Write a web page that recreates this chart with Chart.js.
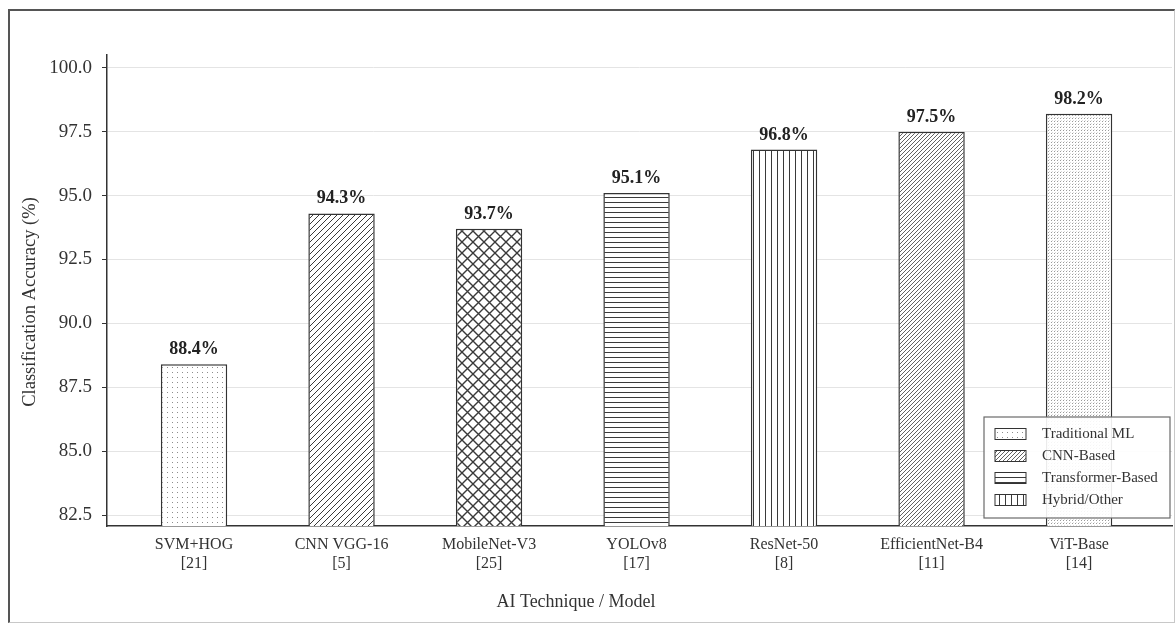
<!DOCTYPE html>
<html>
<head>
<meta charset="utf-8">
<title>Classification accuracy by AI technique</title>
<script src="https://cdn.jsdelivr.net/npm/chart.js@4.4.1/dist/chart.umd.min.js"></script>
<style>
  html, body { margin: 0; padding: 0; background: #fff; }
  #wrap { position: relative; width: 1176px; height: 625px; }
  #frame {
    position: absolute; left: 8px; top: 9px; width: 1167px; height: 614px;
    box-sizing: border-box; pointer-events: none;
    border-left: 2px solid #555; border-top: 2px solid #555;
    border-right: 1px solid #c8c8c8; border-bottom: 1px solid #c8c8c8;
  }
</style>
</head>
<body>
<div id="wrap">
  <canvas id="grafico" width="1176" height="625"></canvas>
  <div id="frame"></div>
</div>
<script>
// data
const modelos = ['SVM+HOG', 'CNN VGG-16', 'MobileNet-V3', 'YOLOv8', 'ResNet-50', 'EfficientNet-B4', 'ViT-Base'];
const referencias = ['[21]', '[5]', '[25]', '[17]', '[8]', '[11]', '[14]'];
const precision = [88.4, 94.3, 93.7, 95.1, 96.8, 97.5, 98.2];
const tramas = ['dots', 'diag', 'cross', 'horiz', 'vert', 'finediag', 'densedots'];
const yTicks = [82.5, 85.0, 87.5, 90.0, 92.5, 95.0, 97.5, 100.0];

const leyendaTextos = ['Traditional ML', 'CNN-Based', 'Transformer-Based', 'Hybrid/Other'];
const leyendaTramas = ['dots', 'finediag', 'horiz', 'vert'];

const fuente = "'Liberation Serif', 'DejaVu Serif', serif";

function crearTrama(tipo) {
    const c = document.createElement('canvas');
    const g = c.getContext('2d');
    let w = 6, h = 6;
    if (tipo === 'dots') { w = 5; h = 5; }
    if (tipo === 'densedots') { w = 3; h = 3; }
    if (tipo === 'diag') { w = 6; h = 6; }
    if (tipo === 'finediag') { w = 4; h = 4; }
    if (tipo === 'cross') { w = 11; h = 11; }
    if (tipo === 'horiz') { w = 8; h = 5; }
    if (tipo === 'vert') { w = 6; h = 8; }
    c.width = w; c.height = h;
    g.fillStyle = '#ffffff';
    g.fillRect(0, 0, w, h);
    g.strokeStyle = '#3a3a3a';

    if (tipo === 'dots') {
        g.fillStyle = '#8c8c8c';
        g.fillRect(2, 2, 1, 1);
    } else if (tipo === 'densedots') {
        g.fillStyle = '#9a9a9a';
        g.fillRect(1, 1, 1, 1);
        g.fillStyle = '#dcdcdc';
        g.fillRect(2, 0, 1, 1);
    } else if (tipo === 'diag' || tipo === 'finediag') {
        g.lineWidth = tipo === 'diag' ? 1 : 0.8;
        g.beginPath();
        g.moveTo(0, h); g.lineTo(w, 0);
        g.moveTo(-1, 1); g.lineTo(1, -1);
        g.moveTo(w - 1, h + 1); g.lineTo(w + 1, h - 1);
        g.stroke();
    } else if (tipo === 'cross') {
        g.lineWidth = 1.4;
        g.beginPath();
        g.moveTo(0, h); g.lineTo(w, 0);
        g.moveTo(0, 0); g.lineTo(w, h);
        g.stroke();
    } else if (tipo === 'horiz') {
        g.lineWidth = 1;
        g.beginPath();
        g.moveTo(0, 2.5); g.lineTo(w, 2.5);
        g.stroke();
    } else if (tipo === 'vert') {
        g.lineWidth = 1;
        g.beginPath();
        g.moveTo(3.5, 0); g.lineTo(3.5, h);
        g.stroke();
    }
    return g.createPattern(c, 'repeat');
}

// etiquetas de valor encima de cada barra
const etiquetasBarras = {
    id: 'etiquetasBarras',
    afterDatasetsDraw(chart) {
        const ctx = chart.ctx;
        const meta = chart.getDatasetMeta(0);
        ctx.save();
        ctx.font = 'bold 18px ' + fuente;
        ctx.fillStyle = '#222';
        ctx.textAlign = 'center';
        ctx.textBaseline = 'alphabetic';
        meta.data.forEach(function (barra, i) {
            ctx.fillText(precision[i].toFixed(1) + '%', barra.x, barra.y - 10);
        });
        ctx.restore();
    }
};

// leyenda dentro del area, abajo a la derecha, y titulos de ejes
const leyendaTramasPlugin = {
    id: 'leyendaTramas',
    afterDraw(chart) {
        const ctx = chart.ctx;
        const area = chart.chartArea;
        const bx = area.right - 188, by = area.bottom - 109, bw = 186, bh = 101;
        ctx.save();
        ctx.fillStyle = 'rgba(255,255,255,0.9)';
        ctx.fillRect(bx, by, bw, bh);
        ctx.strokeStyle = '#6a6a6a';
        ctx.lineWidth = 1.2;
        ctx.strokeRect(bx, by, bw, bh);

        ctx.font = '15px ' + fuente;
        ctx.textBaseline = 'middle';
        ctx.textAlign = 'left';
        leyendaTextos.forEach(function (texto, i) {
            const yy = by + 17 + i * 22;
            ctx.fillStyle = crearTrama(leyendaTramas[i]);
            ctx.fillRect(bx + 11, yy - 5.5, 31, 11);
            ctx.strokeStyle = '#333';
            ctx.lineWidth = 1;
            ctx.strokeRect(bx + 11, yy - 5.5, 31, 11);
            ctx.fillStyle = '#333';
            ctx.fillText(texto, bx + 58, yy);
        });

        ctx.fillStyle = '#333';
        ctx.textAlign = 'center';
        ctx.font = '18px ' + fuente;
        ctx.fillText('AI Technique / Model', area.left + 469, area.bottom + 76);

        ctx.translate(30, area.top + 247);
        ctx.rotate(-Math.PI / 2);
        ctx.font = '18.5px ' + fuente;
        ctx.fillText('Classification Accuracy (%)', 0, 0);
        ctx.restore();
    }
};

Chart.defaults.font.family = fuente;
Chart.defaults.color = '#333';

const ctx = document.getElementById('grafico');

new Chart(ctx, {
    type: 'bar',
    plugins: [etiquetasBarras, leyendaTramasPlugin],
    data: {
        datasets: [{
            label: 'Accuracy',
            data: precision.map((v, i) => ({ x: i, y: v })),
            backgroundColor: tramas.map(crearTrama),
            borderColor: '#333',
            borderWidth: 1.5,
            borderSkipped: false,
            categoryPercentage: 1,
            barPercentage: 0.45
        }]
    },
    options: {
        responsive: false,
        animation: false,
        layout: { padding: { left: 0, top: 55, right: 4, bottom: 0 } },
        plugins: {
            legend: { display: false },
            tooltip: { enabled: false }
        },
        scales: {
            x: {
                type: 'linear',
                offset: false,
                min: -0.59,
                max: 6.63,
                afterBuildTicks: (axis) => { axis.ticks = modelos.map((m, i) => ({ value: i })); },
                afterFit: (axis) => { axis.height = 99; },
                grid: { display: false, offset: false },
                border: { display: true, color: '#333', width: 1.5 },
                ticks: {
                    autoSkip: false,
                    maxRotation: 0,
                    padding: 1,
                    color: '#333',
                    font: { size: 16 },
                    callback: (v) => [modelos[v], referencias[v]]
                }
            },
            y: {
                min: 82.07,
                max: 100.5,
                afterBuildTicks: (axis) => { axis.ticks = yTicks.map(v => ({ value: v })); },
                afterFit: (axis) => { axis.width = 107; },
                grid: {
                    color: '#e4e4e4',
                    lineWidth: 1,
                    drawTicks: true,
                    tickLength: 5,
                    tickColor: '#333'
                },
                border: { display: true, color: '#333', width: 1.5 },
                ticks: {
                    padding: 10,
                    color: '#333',
                    font: { size: 19 },
                    callback: (v) => Number(v).toFixed(1)
                }
            }
        }
    }
});
</script>
</body>
</html>
